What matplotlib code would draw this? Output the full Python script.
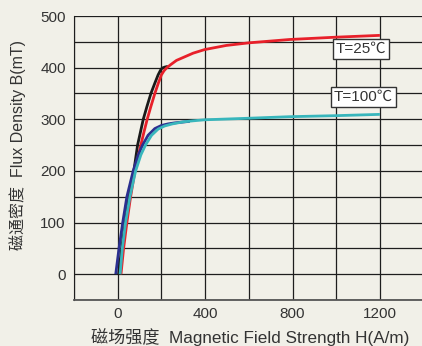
import matplotlib
matplotlib.use("Agg")
import matplotlib.pyplot as plt
import numpy as np

# 25°C curves
h25_black = [4, 18, 34, 52, 74, 91, 104, 117, 134, 152, 170, 185, 196, 203, 215, 230]
b25_black = [0, 50, 100, 150, 200, 250, 275, 300, 325, 350, 370, 386, 395, 399, 401, 402.5]
h25_red = [15, 27, 42, 59, 79, 92, 106, 120, 135, 152, 170, 186, 200, 212, 223, 240, 269,
           345, 398, 497, 600, 787, 1000, 1200]
b25_red = [0, 50, 100, 150, 200, 225, 250, 275, 300, 325, 350, 370, 386, 394, 399, 405, 414,
           428, 435, 443, 448, 454.5, 459, 462.5]
# 100°C curves
h100_blue = [-9, 6, 23, 42, 71, 94, 114, 139, 170, 200, 230, 261, 330]
b100_blue = [0, 50, 100, 150, 200, 231, 250, 269, 282, 288, 291, 293, 296]
h100_cyan = [11, 21, 36, 56, 82, 106, 127, 155, 185, 215, 250, 300, 345, 398, 500, 600, 787, 1000, 1200]
b100_cyan = [0, 50, 100, 150, 200, 231, 250, 269, 281, 287, 291, 295, 297, 299, 300.5, 302, 305, 307, 309.5]

xticks = [0, 400, 800, 1200]
yticks = [0, 100, 200, 300, 400, 500]

bg = "#f1f0e8"
fam = ["Liberation Sans", "Noto Sans CJK SC", "DejaVu Sans"]
plt.rcParams["font.family"] = fam

W, H = 422, 346
fig = plt.figure(figsize=(W / 100, H / 100), dpi=100, facecolor=bg)
ax = fig.add_axes([74 / W, 46 / H, (423.6 - 74) / W, 284 / H])
ax.set_facecolor(bg)

ax.set_xlim(-200, 1400)
ax.set_ylim(-50, 500)
for x in np.arange(-200, 1401, 200):
    ax.axvline(x, color="#1e1e1e", lw=0.9, zorder=1)
for y in np.arange(-50, 501, 50):
    ax.axhline(y, color="#1e1e1e", lw=0.9, zorder=1)

lw = 2.0
kw = dict(lw=lw, solid_capstyle="butt", solid_joinstyle="round")
ax.plot(h25_black, b25_black, color="#1a1a1a", zorder=3, **kw)
ax.plot(h25_red, b25_red, color="#e8202a", zorder=4, **kw)
ax.plot(h100_blue, b100_blue, color="#2b2f8f", zorder=5, **kw)
ax.plot(h100_cyan, b100_cyan, color="#38b6bc", zorder=6, **kw)

ax.set_xticks(xticks)
ax.set_yticks(yticks)
ax.tick_params(length=0, labelsize=11, labelcolor="#333333")
ax.tick_params(axis="x", pad=5)
ax.tick_params(axis="y", pad=6)
for s in ax.spines.values():
    s.set_visible(False)
ax.spines["left"].set_visible(True)
ax.spines["left"].set_color("#1e1e1e")
ax.spines["bottom"].set_visible(True)
ax.spines["bottom"].set_color("#555555")
ax.spines["bottom"].set_linewidth(1.3)

box = dict(boxstyle="square,pad=0.18", fc="white", ec="#333333", lw=1.0)
ax.text(1112, 436, "T=25℃", fontsize=11, color="#333333", ha="center", va="center", bbox=box, zorder=8)
ax.text(1124, 343, "T=100℃", fontsize=11, color="#333333", ha="center", va="center", bbox=box, zorder=8)

fig.text(250 / W, 1 - 337 / H, "磁场强度  Magnetic Field Strength H(A/m)", fontsize=12.3,
         color="#333333", ha="center", va="center")
fig.text(18 / W, 1 - 145 / H, "磁通密度  Flux Density B(mT)", fontsize=11.5,
         color="#333333", ha="center", va="center", rotation=90)

fig.savefig("out.png", dpi=100, facecolor=bg)
